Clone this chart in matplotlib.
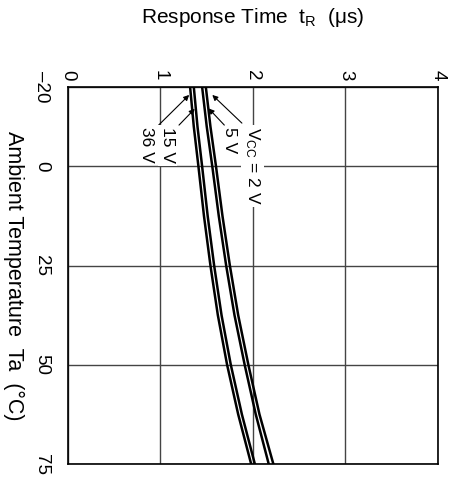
import matplotlib
matplotlib.use("Agg")
import matplotlib.pyplot as plt

plt.rcParams['font.family'] = ['Liberation Sans', 'DejaVu Sans']
plt.rcParams['mathtext.fontset'] = 'custom'
plt.rcParams['mathtext.rm'] = 'Liberation Sans'
plt.rcParams['mathtext.it'] = 'Liberation Sans'

# data
temp = [-20, -10, 0, 12.5, 25, 37.5, 50, 62.5, 75]
t_36v = [1.32, 1.36, 1.41, 1.47, 1.54, 1.62, 1.72, 1.84, 1.98]
t_15v = [1.36, 1.40, 1.45, 1.51, 1.58, 1.66, 1.76, 1.88, 2.02]
t_5v = [1.45, 1.50, 1.56, 1.63, 1.71, 1.80, 1.91, 2.03, 2.17]
t_2v = [1.49, 1.54, 1.60, 1.67, 1.75, 1.84, 1.95, 2.07, 2.22]

x_ticks = [0, 1, 2, 3, 4]
y_ticks = [-20, 0, 25, 50, 75]
y_tick_labels = ['\u201320', '0', '25', '50', '75']

fig = plt.figure(figsize=(4.56, 4.82), dpi=100)
ax = fig.add_axes([68 / 456, 18 / 482, 370 / 456, 377 / 482])

# chart is drawn rotated: response time runs left->right, temperature top->bottom
for s in [t_36v, t_15v, t_5v, t_2v]:
    ax.plot(s, temp, color='black', lw=1.8, zorder=3)

ax.set_xlim(0, 4)
ax.set_ylim(75, -20)
ax.set_xticks(x_ticks)
ax.set_yticks(y_ticks)
ax.set_yticklabels(y_tick_labels)
ax.xaxis.tick_top()
ax.xaxis.set_label_position('top')
ax.tick_params(axis='both', length=0, labelsize=13.5)
ax.tick_params(axis='x', pad=5, labelrotation=-90)
ax.tick_params(axis='y', pad=13, labelrotation=-90)
for lab in ax.get_yticklabels():
    lab.set_va('center')
for lab in ax.get_xticklabels():
    lab.set_ha('center')

ax.grid(True, color='#444444', lw=1.0, zorder=1)
for sp in ax.spines.values():
    sp.set_linewidth(1.2)

ax.set_xlabel('Response Time  t$_\\mathrm{R}$  (\u03bcs)', fontsize=15)
ax.xaxis.set_label_coords(0.5, 1.17)
ax.set_ylabel('Ambient Temperature  Ta  (\u00b0C)', fontsize=15.5, rotation=-90,
              va='center', ha='center')
ax.yaxis.set_label_coords(-0.148, 0.5)

# curve labels with arrows
box = dict(facecolor='white', edgecolor='none', pad=1.5)
labels = ['36 V', '15 V', '5 V', 'V$_\\mathrm{CC}$ = 2 V']
label_x = [0.85, 1.08, 1.75, 1.99]
arrow_tail = [(0.98, -10.4), (1.20, -10.4), (1.69, -10.4), (1.88, -10.9)]
arrow_head = [(1.31, -18.0), (1.37, -14.5), (1.52, -14.6), (1.56, -18.0)]

for lab, lx, tail, head in zip(labels, label_x, arrow_tail, arrow_head):
    ax.text(lx, -9.8, lab, rotation=-90, ha='center', va='top', fontsize=12.5,
            bbox=box, zorder=4)
    ax.annotate('', xy=head, xytext=tail, zorder=4,
                arrowprops=dict(arrowstyle='-|>', color='black', lw=0.8,
                                shrinkA=0, shrinkB=0, mutation_scale=8))

fig.savefig('out.png', dpi=100)
